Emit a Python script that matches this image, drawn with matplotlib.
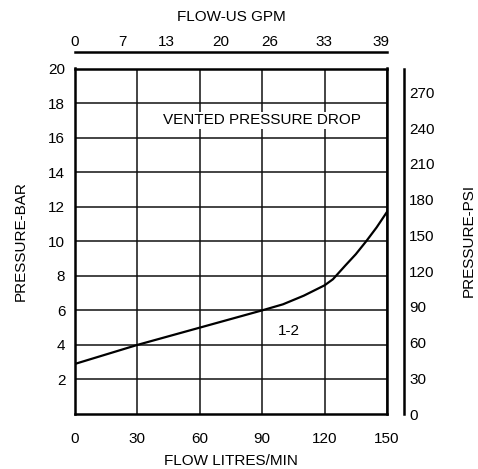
import matplotlib
matplotlib.use("Agg")
import matplotlib.pyplot as plt

plt.rcParams['font.family'] = ['Liberation Sans', 'DejaVu Sans']

# Data
flow_lpm = [0, 15, 30, 45, 60, 75, 90, 100, 105, 110, 120, 124, 130, 135, 140, 145, 150]
pressure_bar = [2.9, 3.45, 4.0, 4.5, 5.0, 5.5, 6.0, 6.35, 6.6, 6.85, 7.45, 7.8, 8.6, 9.25, 10.0, 10.8, 11.7]

x_ticks = [0, 30, 60, 90, 120, 150]
y_ticks = [2, 4, 6, 8, 10, 12, 14, 16, 18, 20]
psi_ticks = [0, 30, 60, 90, 120, 150, 180, 210, 240, 270]
gpm_labels = ['0', '7', '13', '20', '26', '33', '39']
gpm_label_lpm = [0, 22.6, 43.8, 70.2, 93.7, 119.7, 147]

FS = 11
fig = plt.figure(figsize=(4.78, 4.69), dpi=100)
ax = fig.add_axes([75/478, 1-414/469, 312/478, 345.5/469])

ax.plot(flow_lpm, pressure_bar, color='black', lw=1.6, zorder=3)
ax.set_xlim(0, 150)
ax.set_ylim(0, 20)
ax.set_xticks(x_ticks)
ax.set_yticks(y_ticks)
ax.grid(True, color='#111111', lw=1.1)
ax.tick_params(length=0, labelsize=FS)
ax.tick_params(axis='x', pad=13)
ax.tick_params(axis='y', pad=7)
for s in ax.spines.values():
    s.set_linewidth(1.8)
ax.set_xlabel('FLOW LITRES/MIN', fontsize=FS, labelpad=6)
ax.set_ylabel('PRESSURE-BAR', fontsize=FS, labelpad=15)

ax.text(90, 17.0, 'VENTED PRESSURE DROP', ha='center', va='center', fontsize=FS,
        bbox=dict(facecolor='white', edgecolor='none', pad=1))
ax.text(103, 4.8, '1-2', ha='center', va='center', fontsize=FS)

# top GPM axis
axt = ax.twiny()
axt.set_xlim(0, 150)
axt.set_xticks(gpm_label_lpm)
axt.set_xticklabels(gpm_labels)
axt.spines['top'].set_position(('outward', 12))
for k in ['left', 'right', 'bottom']:
    axt.spines[k].set_visible(False)
axt.spines['top'].set_linewidth(1.8)
axt.tick_params(length=0, labelsize=FS, pad=2)
axt.set_xlabel('FLOW-US GPM', fontsize=FS, labelpad=10)

# right PSI axis
axr = ax.twinx()
axr.set_ylim(0, 20 * 14.5)
axr.set_yticks(psi_ticks)
axr.spines['right'].set_position(('outward', 12))
for k in ['left', 'top', 'bottom']:
    axr.spines[k].set_visible(False)
axr.spines['right'].set_linewidth(1.8)
axr.tick_params(length=0, labelsize=FS, pad=4)
fig.text(469/478, 1 - 240/469, 'PRESSURE-PSI', rotation=90, ha='center', va='center', fontsize=FS)

fig.savefig('out.png', dpi=100)
